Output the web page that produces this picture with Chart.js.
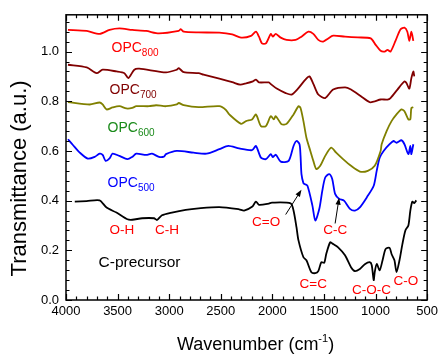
<!DOCTYPE html>
<html><head><meta charset="utf-8">
<script src="https://cdn.jsdelivr.net/npm/chart.js@4"></script>
<style>html,body{margin:0;padding:0;background:#fff}#wrap{width:442px;height:354px}</style>
</head><body><div id="wrap"><canvas id="c" width="442" height="354"></canvas></div>
<script>
// ---- data (wavenumber cm^-1, transmittance a.u.) ----
const precursorWn = [3915,3800,3675,3607,3511,3405,3358,3262,3147,3118,3070,2974,2840,2715,2514,2322,2274,2197,2159,2130,2034,2005,1823,1795,1766,1747,1699,1670,1622,1584,1555,1526,1497,1478,1440,1411,1363,1296,1238,1200,1152,1104,1056,1037,1018,1008,989,960,932,903,864,845,817,797,768,740,711,682,663,644,625,605];
const precursorT  = [0.396,0.398,0.401,0.372,0.352,0.325,0.323,0.329,0.329,0.322,0.341,0.352,0.363,0.369,0.374,0.365,0.360,0.375,0.396,0.383,0.388,0.392,0.389,0.360,0.292,0.240,0.172,0.160,0.112,0.108,0.116,0.152,0.150,0.185,0.232,0.225,0.212,0.180,0.132,0.116,0.125,0.144,0.152,0.140,0.080,0.112,0.145,0.120,0.160,0.205,0.210,0.185,0.160,0.112,0.160,0.225,0.280,0.300,0.360,0.396,0.390,0.401];

const opc500Wn = [3981,3933,3866,3789,3722,3674,3645,3616,3578,3549,3482,3405,3358,3319,3223,3166,3099,3051,3031,2926,2763,2638,2514,2427,2322,2197,2159,2111,2063,2015,1996,1967,1919,1842,1795,1766,1737,1727,1718,1699,1689,1660,1612,1584,1545,1516,1488,1449,1420,1392,1353,1306,1248,1200,1152,1085,1018,989,960,922,864,826,797,749,720,682,663,653,634];
const opc500T  = [0.647,0.624,0.593,0.569,0.576,0.589,0.584,0.560,0.570,0.589,0.580,0.567,0.576,0.589,0.584,0.589,0.576,0.577,0.587,0.600,0.593,0.589,0.607,0.620,0.610,0.603,0.620,0.573,0.567,0.587,0.575,0.585,0.557,0.560,0.620,0.640,0.627,0.580,0.507,0.470,0.467,0.460,0.380,0.320,0.367,0.440,0.493,0.507,0.487,0.427,0.407,0.400,0.367,0.360,0.373,0.413,0.460,0.520,0.573,0.600,0.627,0.640,0.633,0.643,0.627,0.587,0.620,0.587,0.627];

const opc600Wn = [3981,3770,3674,3645,3607,3549,3482,3415,3358,3319,3195,3127,3031,2926,2907,2859,2715,2514,2450,2418,2303,2255,2197,2159,2111,2063,2015,1986,1967,1910,1862,1795,1747,1727,1699,1670,1632,1603,1574,1536,1488,1430,1382,1315,1238,1152,1075,1008,951,941,893,845,797,749,720,682,663,653,634];
const opc600T  = [0.797,0.787,0.795,0.787,0.767,0.775,0.780,0.771,0.773,0.780,0.780,0.784,0.780,0.787,0.793,0.784,0.776,0.780,0.765,0.747,0.709,0.720,0.727,0.747,0.700,0.700,0.740,0.727,0.740,0.707,0.709,0.747,0.780,0.773,0.720,0.653,0.600,0.560,0.527,0.540,0.580,0.613,0.593,0.567,0.540,0.517,0.520,0.540,0.600,0.627,0.680,0.720,0.747,0.767,0.760,0.727,0.727,0.773,0.776];

const opc700Wn = [3981,3799,3703,3645,3511,3434,3396,3338,3290,3031,2926,2907,2859,2715,2667,2514,2389,2312,2255,2188,2159,2130,2034,2015,1958,1871,1814,1747,1680,1641,1603,1555,1488,1411,1296,1238,1142,1056,1008,951,884,855,788,720,701,673,653,634,625];
const opc700T  = [0.947,0.936,0.913,0.927,0.920,0.913,0.893,0.927,0.931,0.916,0.927,0.933,0.917,0.913,0.907,0.891,0.877,0.867,0.872,0.880,0.887,0.876,0.876,0.869,0.851,0.833,0.827,0.853,0.887,0.900,0.870,0.827,0.813,0.847,0.856,0.847,0.820,0.796,0.800,0.807,0.807,0.813,0.847,0.880,0.873,0.851,0.893,0.920,0.900];

const opc800Wn = [3981,3799,3674,3578,3482,3358,3223,3099,2907,2888,2859,2715,2514,2389,2303,2207,2159,2130,2101,2063,2015,1996,1967,1919,1862,1775,1718,1651,1603,1555,1507,1459,1411,1296,1171,1047,999,951,912,884,855,807,759,720,692,673,653,634];
const opc800T  = [1.087,1.083,1.071,1.087,1.093,1.087,1.083,1.073,1.083,1.090,1.080,1.077,1.076,1.069,1.056,1.063,1.080,1.060,1.033,1.033,1.071,1.060,1.071,1.056,1.047,1.047,1.060,1.080,1.071,1.047,1.040,1.053,1.064,1.060,1.057,1.053,1.027,1.003,1.000,1.007,1.000,1.043,1.089,1.096,1.080,1.043,1.080,1.043];

const xTickLabels = [4000,3500,3000,2500,2000,1500,1000,500];
const yTickLabels = [0.0,0.2,0.4,0.6,0.8,1.0];

// ---- annotations (data coordinates) ----
const seriesLabels = [
  {t:'OPC', s:'800', c:'#ff0000', x:3559, y:1.000},
  {t:'OPC', s:'700', c:'#800000', x:3578, y:0.828},
  {t:'OPC', s:'600', c:'#1a8a1a', x:3597, y:0.676},
  {t:'OPC', s:'500', c:'#0000ff', x:3597, y:0.456}
];
const bandLabels = [
  {t:'O-H', x:3578, y:0.264},
  {t:'C-H', x:3137, y:0.264},
  {t:'C=O', x:2197, y:0.296},
  {t:'C-C', x:1507, y:0.264},
  {t:'C=C', x:1737, y:0.050},
  {t:'C-O-C', x:1229, y:0.024},
  {t:'C-O', x:826, y:0.060}
];
const arrows = [
  {x1:1871, y1:0.344, x2:1718, y2:0.444},
  {x1:1392, y1:0.308, x2:1353, y2:0.412}
];

const FONT = "'Liberation Sans', Arial, sans-serif";
const toPts = (xs, ys) => xs.map((v,i)=>({x:v, y:ys[i]}));

const decor = {
  id:'decor',
  afterDraw(chart){
    const {ctx, chartArea:a, scales:{x, y}} = chart;
    ctx.save();
    ctx.strokeStyle='#000'; ctx.lineWidth=1.5;
    ctx.strokeRect(a.left, a.top, a.right-a.left, a.bottom-a.top);
    ctx.lineWidth=1.2;
    ctx.beginPath();
    for(let v=500; v<=4000; v+=100){
      const px=Math.round(x.getPixelForValue(v))+0.5;
      const len = (v%500===0)?6:3.5;
      ctx.moveTo(px,a.bottom); ctx.lineTo(px,a.bottom-len);
      ctx.moveTo(px,a.top); ctx.lineTo(px,a.top+len);
    }
    for(let i=0;i*0.04<=y.max+1e-9;i++){
      const v=i*0.04, py=Math.round(y.getPixelForValue(v))+0.5;
      const len = (i%5===0)?6:3.5;
      ctx.moveTo(a.left,py); ctx.lineTo(a.left+len,py);
      ctx.moveTo(a.right,py); ctx.lineTo(a.right-len,py);
    }
    ctx.stroke();
    ctx.textBaseline='alphabetic'; ctx.textAlign='left';
    seriesLabels.forEach(l=>{
      const px=x.getPixelForValue(l.x), py=y.getPixelForValue(l.y);
      ctx.fillStyle=l.c;
      ctx.font='14px '+FONT; ctx.fillText(l.t,px,py);
      const w=ctx.measureText(l.t).width;
      ctx.font='10px '+FONT; ctx.fillText(l.s,px+w,py+4);
    });
    ctx.fillStyle='#ff0000'; ctx.font='13.5px '+FONT;
    bandLabels.forEach(l=>ctx.fillText(l.t, x.getPixelForValue(l.x), y.getPixelForValue(l.y)));
    ctx.fillStyle='#000'; ctx.font='15.5px '+FONT;
    ctx.fillText('C-precursor', x.getPixelForValue(3684), y.getPixelForValue(0.132));
    ctx.strokeStyle='#000'; ctx.fillStyle='#000'; ctx.lineWidth=1;
    arrows.forEach(r=>{
      const x1=x.getPixelForValue(r.x1), y1=y.getPixelForValue(r.y1);
      const x2=x.getPixelForValue(r.x2), y2=y.getPixelForValue(r.y2);
      const ang=Math.atan2(y2-y1,x2-x1), L=7, W=2.6;
      ctx.beginPath(); ctx.moveTo(x1,y1); ctx.lineTo(x2-Math.cos(ang)*L*0.8,y2-Math.sin(ang)*L*0.8); ctx.stroke();
      ctx.beginPath();
      ctx.moveTo(x2,y2);
      ctx.lineTo(x2-Math.cos(ang)*L - Math.sin(ang)*W, y2-Math.sin(ang)*L + Math.cos(ang)*W);
      ctx.lineTo(x2-Math.cos(ang)*L + Math.sin(ang)*W, y2-Math.sin(ang)*L - Math.cos(ang)*W);
      ctx.closePath(); ctx.fill();
    });
    ctx.fillStyle='#000'; ctx.textAlign='left';
    const t1='Wavenumber (cm', t2=')';
    ctx.font='11px '+FONT; const wsup=ctx.measureText('-1').width;
    ctx.font='18px '+FONT;
    const w1=ctx.measureText(t1).width, w2=ctx.measureText(t2).width;
    let sx=(a.left+a.right)/2 + 9 - (w1+wsup+w2)/2, by=350;
    ctx.fillText(t1,sx,by);
    ctx.font='11px '+FONT; ctx.fillText('-1',sx+w1,by-8);
    ctx.font='18px '+FONT; ctx.fillText(t2,sx+w1+wsup,by);
    ctx.save();
    ctx.translate(26,(a.top+a.bottom)/2+21);
    ctx.rotate(-Math.PI/2);
    ctx.textAlign='center';
    ctx.font='22px '+FONT;
    ctx.fillText('Transmittance (a.u.)',0,0);
    ctx.restore();
    ctx.restore();
  }
};

const ds = (label, xs, ys, color) => ({label, data:toPts(xs,ys), borderColor:color, backgroundColor:color, borderWidth:1.8, pointRadius:0, tension:0.25, fill:false});

new Chart(document.getElementById('c'), {
  type:'line',
  data:{datasets:[
    ds('OPC800', opc800Wn, opc800T, '#ff0000'),
    ds('OPC700', opc700Wn, opc700T, '#800000'),
    ds('OPC600', opc600Wn, opc600T, '#808000'),
    ds('OPC500', opc500Wn, opc500T, '#0000ff'),
    ds('C-precursor', precursorWn, precursorT, '#000000')
  ]},
  options:{
    responsive:false, animation:false,
    layout:{padding:{left:0,right:11,top:13,bottom:0}},
    plugins:{legend:{display:false}, tooltip:{enabled:false}},
    scales:{
      x:{type:'linear', reverse:true, min:500, max:4000,
         grid:{display:false, drawTicks:false}, border:{display:false},
         afterBuildTicks:s=>{s.ticks=xTickLabels.map(v=>({value:v}));},
         afterFit:s=>{s.height=54;},
         ticks:{padding:4, color:'#000', font:{family:FONT,size:13}, maxRotation:0, autoSkip:false, callback:v=>String(v)}},
      y:{type:'linear', min:0, max:1.148,
         grid:{display:false, drawTicks:false}, border:{display:false},
         afterBuildTicks:s=>{s.ticks=yTickLabels.map(v=>({value:v}));},
         afterFit:s=>{s.width=66;},
         ticks:{padding:7, color:'#000', font:{family:FONT,size:13}, callback:v=>v.toFixed(1)}}
    }
  },
  plugins:[decor]
});
</script></body></html>
